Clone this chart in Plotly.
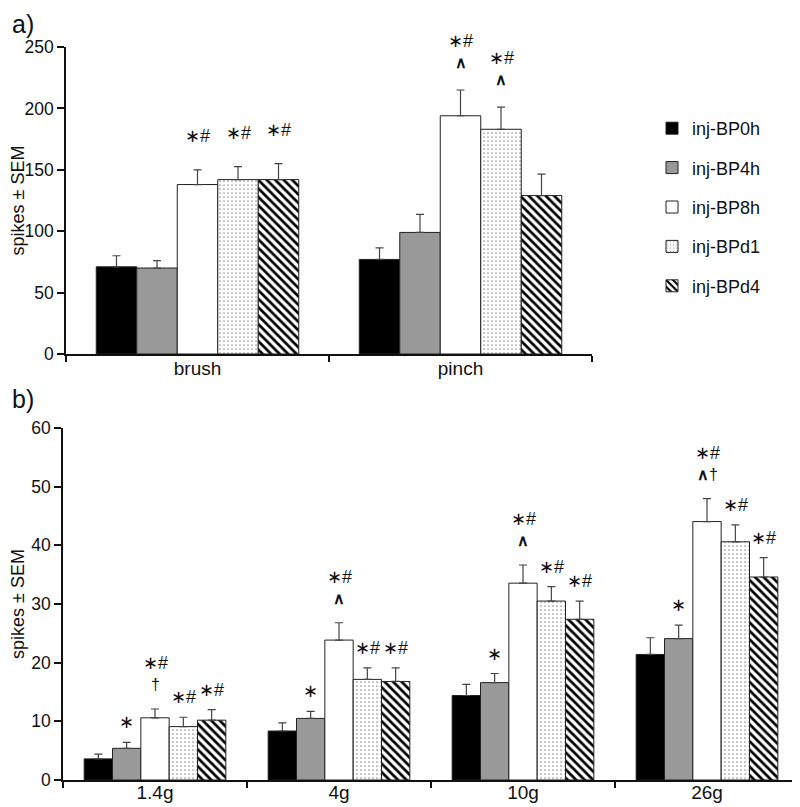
import plotly.graph_objects as go

# ---- data ----
series = ['inj-BP0h', 'inj-BP4h', 'inj-BP8h', 'inj-BPd1', 'inj-BPd4']

cats_a = ['brush', 'pinch']
mean_a = [
    [71, 77],      # BP0h
    [70, 99],      # BP4h
    [138, 194],    # BP8h
    [142, 183],    # BPd1
    [142, 129],    # BPd4
]
sem_a = [
    [9, 9.5],
    [6, 14.7],
    [12, 21],
    [10.6, 18],
    [13, 17.4],
]
marks_a = [
    ['', ''],
    ['', ''],
    ['∗#', '∗#<br><b>∧</b>'],
    ['∗#', '∗#<br><b>∧</b>'],
    ['∗#', ''],
]

cats_b = ['1.4g', '4g', '10g', '26g']
mean_b = [
    [3.6, 8.35, 14.4, 21.4],
    [5.4, 10.5, 16.6, 24.1],
    [10.6, 23.85, 33.55, 44.05],
    [9.1, 17.15, 30.5, 40.6],
    [10.2, 16.8, 27.4, 34.6],
]
sem_b = [
    [0.8, 1.4, 1.9, 2.85],
    [1.0, 1.2, 1.55, 2.3],
    [1.5, 2.95, 3.1, 3.9],
    [1.6, 1.95, 2.45, 2.9],
    [1.8, 2.3, 3.1, 3.3],
]
marks_b = [
    ['', '', '', ''],
    ['∗', '∗', '∗', '∗'],
    ['∗#<br>†', '∗#<br><b>∧</b>', '∗#<br><b>∧</b>', '∗#<br><b>∧</b>†'],
    ['∗#', '∗#', '∗#', '∗#'],
    ['∗#', '∗#', '∗#', '∗#'],
]

# ---- styles ----
FONT = 'Liberation Sans, Arial, sans-serif'
styles = [
    dict(color='#000000'),
    dict(color='#999999'),
    dict(color='#ffffff'),
    dict(color='#ffffff', pattern=dict(shape='.', size=4, solidity=0.06, fgcolor='#000000', bgcolor='#ffffff', fillmode='replace')),
    dict(color='#ffffff', pattern=dict(shape='\\', size=6, solidity=0.45, fgcolor='#000000', bgcolor='#ffffff', fillmode='replace')),
]
BARGAP = 0.23

# page body has an 8px margin, so the figure is a bit smaller and pixel
# positions below are converted to paper fractions with that offset
OFF = 8
W, H = 800 - OFF, 807 - OFF


def px(x):
    return (x - OFF) / W


def py(y):
    return 1 - (y - OFF) / H


fig = go.Figure()


def add_panel(cats, means, sems, xa, ya, legend):
    for k, name in enumerate(series):
        fig.add_trace(go.Bar(
            x=cats, y=means[k], name=name,
            xaxis=xa, yaxis=ya,
            legendgroup=name, showlegend=legend,
            marker=dict(line=dict(color='#222222', width=1), **styles[k]),
            error_y=dict(type='data', array=sems[k], arrayminus=[0] * len(cats),
                         symmetric=False, color='#444444', thickness=1.2, width=4),
        ))


add_panel(cats_a, mean_a, sem_a, 'x', 'y', True)
add_panel(cats_b, mean_b, sem_b, 'x2', 'y2', False)

# significance marks above the error bars, one annotation per text line
w = (1 - BARGAP) / len(series)
LINE = 20


def add_marks(cats, means, sems, marks, xref, yref, shift, extra):
    for k in range(len(series)):
        for i in range(len(cats)):
            if not marks[k][i]:
                continue
            lines = marks[k][i].split('<br>')
            base = shift + (extra if len(lines) > 1 else 0)
            for j, line in enumerate(reversed(lines)):
                # lower lines (^, dagger) are a touch smaller
                size = 16 if (len(lines) > 1 and j == 0) else 18
                fig.add_annotation(
                    x=i + (k - 2) * w, y=means[k][i] + sems[k][i],
                    xref=xref, yref=yref, text=line,
                    showarrow=False, yanchor='bottom', yshift=base + j * LINE,
                    borderpad=0,
                    font=dict(family=FONT, size=size, color='#111111'),
                )


add_marks(cats_a, mean_a, sem_a, marks_a, 'x', 'y', 23, -5)
add_marks(cats_b, mean_b, sem_b, marks_b, 'x2', 'y2', 9, 6)

# panel letters
for txt, yy in [('a)', OFF), ('b)', 383)]:
    fig.add_annotation(x=px(10), y=py(yy), xref='paper', yref='paper', text=txt,
                       showarrow=False, xanchor='left', yanchor='top',
                       font=dict(family=FONT, size=25, color='#111111'))

axis_common = dict(showline=True, linecolor='#111111', linewidth=1.5,
                   ticks='outside', tickcolor='#111111', tickwidth=1.5,
                   showgrid=False, zeroline=False, automargin=False)

fig.update_layout(
    width=W, height=H,
    template='none',
    paper_bgcolor='white', plot_bgcolor='white',
    margin=dict(l=0, r=0, t=0, b=0),
    barmode='group', bargap=BARGAP, bargroupgap=0,
    font=dict(family=FONT, color='#111111'),
    showlegend=True,
    legend=dict(x=px(652), y=py(110), xanchor='left', yanchor='top',
                font=dict(family=FONT, size=18), tracegroupgap=13,
                traceorder='grouped', bgcolor='rgba(0,0,0,0)'),
    xaxis=dict(domain=[px(66), px(592)], anchor='y', tickson='boundaries',
               ticklen=6, ticklabelstandoff=-4, tickfont=dict(size=19), **axis_common),
    yaxis=dict(domain=[py(354), py(47)], anchor='x', range=[0, 250],
               dtick=50, ticklen=7, tickfont=dict(size=17.5),
               title=dict(text='spikes ± SEM', font=dict(size=18), standoff=10),
               **axis_common),
    xaxis2=dict(domain=[px(63), px(799)], anchor='y2', tickson='boundaries',
                ticklen=6, ticklabelstandoff=-6, tickfont=dict(size=19), **axis_common),
    yaxis2=dict(domain=[py(780), py(428)], anchor='x2', range=[0, 60],
                dtick=10, ticklen=7, tickfont=dict(size=17.5),
                title=dict(text='spikes ± SEM', font=dict(size=18), standoff=10),
                **axis_common),
)

fig.write_html('out.html')
